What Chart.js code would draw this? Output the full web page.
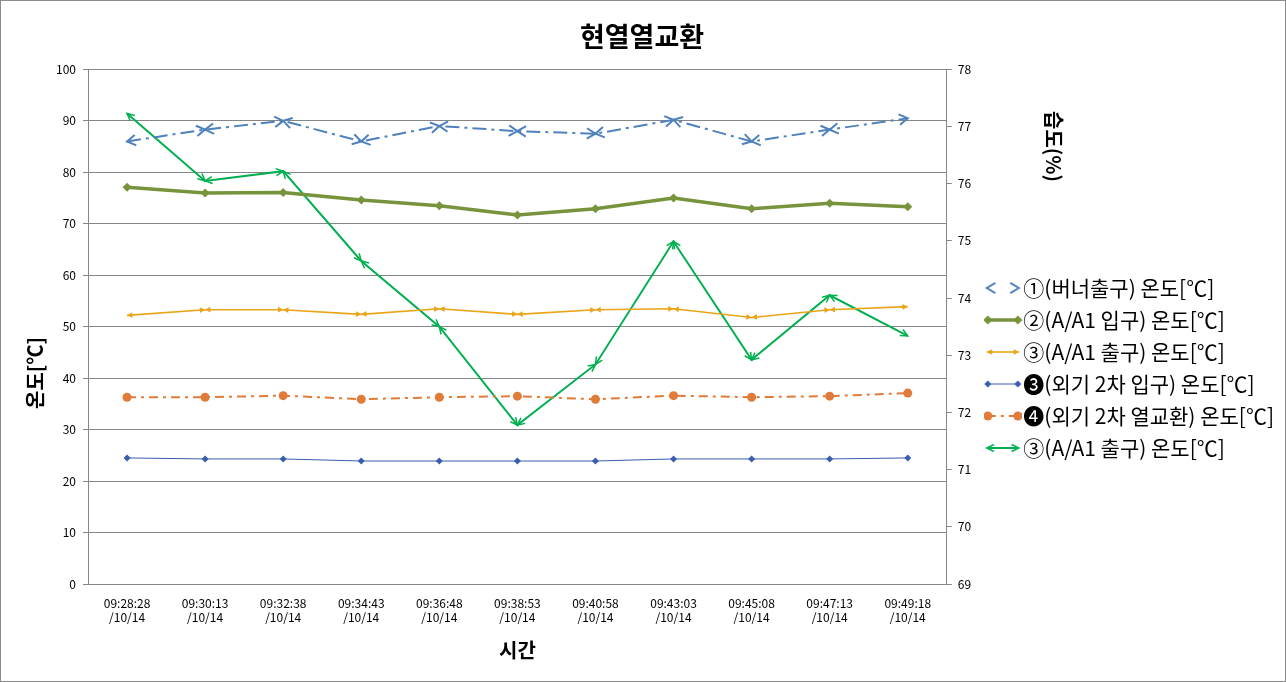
<!DOCTYPE html>
<html>
<head>
<meta charset="utf-8">
<title>현열열교환</title>
<script src="https://cdn.jsdelivr.net/npm/chart.js@4.4.1/dist/chart.umd.min.js"></script>
<style>
html, body { margin: 0; padding: 0; background: #fff; }
</style>
</head>
<body>
<canvas id="chart" width="1286" height="682"></canvas>
<script>

// DATA BEGIN

const times = ['09:28:28', '09:30:13', '09:32:38', '09:34:43', '09:36:48', '09:38:53', '09:40:58', '09:43:03', '09:45:08', '09:47:13', '09:49:18'];
const dateSuffix = '/10/14';

const burnerOut = [86, 88.3, 90, 86, 89, 88, 87.5, 90.2, 86, 88.3, 90.5];
const aa1In = [77.1, 76, 76.1, 74.6, 73.5, 71.7, 72.9, 75, 72.9, 74, 73.3];
const aa1Out = [52.2, 53.3, 53.3, 52.4, 53.5, 52.4, 53.3, 53.5, 51.8, 53.3, 53.9];
const outsideIn = [24.5, 24.3, 24.3, 23.9, 23.9, 23.9, 23.9, 24.3, 24.3, 24.3, 24.5];
const outsideHx = [36.3, 36.3, 36.6, 35.9, 36.3, 36.5, 35.9, 36.6, 36.3, 36.5, 37.1];
const humidity = [77.23, 76.05, 76.22, 74.65, 73.5, 71.78, 72.84, 74.99, 72.92, 74.05, 73.34];

const leftTicks = [0, 100, 10];
const rightTicks = [69, 78, 1];

const seriesNames = ['①(버너출구) 온도[℃]', '②(A/A1 입구) 온도[℃]', '③(A/A1 출구) 온도[℃]', '❸(외기 2차 입구) 온도[℃]', '❹(외기 2차 열교환) 온도[℃]', '③(A/A1 출구) 온도[℃]'];

// DATA END

const FONT = '"Noto Sans CJK KR", "Noto Sans", sans-serif';
const GRID = '#868686';

// ARROW HEADS BEGIN

function arrowHead(g, fx, fy, tx, ty, len, ang, filled)
{
    let a = Math.atan2(ty - fy, tx - fx);
    g.beginPath();
    g.moveTo(tx - len * Math.cos(a - ang), ty - len * Math.sin(a - ang));
    g.lineTo(tx, ty);
    g.lineTo(tx - len * Math.cos(a + ang), ty - len * Math.sin(a + ang));
    if (filled)
    {
        g.closePath();
        g.fill();
    } else {
        g.stroke();
    }
}

const arrowPlugin =
{
    id: 'arrows',
    afterDatasetsDraw: function (chart)
    {
        let g = chart.ctx;
        chart.data.datasets.forEach(function (ds, i)
        {
            if (!ds.arrow)
                return;
            let pts = chart.getDatasetMeta(i).data;
            g.save();
            g.setLineDash([]);
            g.strokeStyle = ds.borderColor;
            g.fillStyle = ds.borderColor;
            g.lineWidth = ds.arrow.width;
            for (let k = 0; k < pts.length - 1; k++)
            {
                let p = pts[k], q = pts[k + 1];
                arrowHead(g, q.x, q.y, p.x, p.y, ds.arrow.len, ds.arrow.ang, ds.arrow.filled);
                arrowHead(g, p.x, p.y, q.x, q.y, ds.arrow.len, ds.arrow.ang, ds.arrow.filled);
            }
            g.restore();
        });
    }
};

// ARROW HEADS END

// LEGEND ICONS BEGIN

function legendIcon(i)
{
    let c = document.createElement('canvas');
    c.width = 38;
    c.height = 14;
    let g = c.getContext('2d');
    let y = 7, x0 = 3, x1 = 35;
    let ds = datasets[i];
    g.strokeStyle = ds.borderColor;
    g.fillStyle = ds.borderColor;
    g.lineWidth = ds.borderWidth;
    g.setLineDash(ds.borderDash || []);
    g.beginPath();
    g.moveTo(x0, y);
    g.lineTo(x1, y);
    if (i !== 0)
        g.stroke();
    g.setLineDash([]);
    if (ds.arrow)
    {
        g.lineWidth = ds.arrow.width;
        arrowHead(g, x1, y, x0, y, ds.arrow.len, ds.arrow.ang, ds.arrow.filled);
        arrowHead(g, x0, y, x1, y, ds.arrow.len, ds.arrow.ang, ds.arrow.filled);
    }
    if (ds.pointRadius > 0)
    {
        [x0 + 1, x1 - 1].forEach(function (x)
        {
            g.beginPath();
            if (ds.pointStyle === 'rectRot')
            {
                let r = ds.pointRadius;
                g.moveTo(x, y - r);
                g.lineTo(x + r, y);
                g.lineTo(x, y + r);
                g.lineTo(x - r, y);
                g.closePath();
            } else {
                g.arc(x, y, ds.pointRadius, 0, Math.PI * 2);
            }
            g.fill();
        });
    }
    return c;
}

// LEGEND ICONS END

// FRAME AND AXIS TITLES BEGIN

const framePlugin =
{
    id: 'frame',
    afterDraw: function (chart)
    {
        let g = chart.ctx;
        let area = chart.chartArea;
        g.save();
        g.strokeStyle = '#8c8c8c';
        g.lineWidth = 1;
        g.strokeRect(0.5, 0.5, chart.width - 1, chart.height - 1);

        g.fillStyle = '#000';
        g.font = 'bold 20px ' + FONT;
        g.textAlign = 'center';
        g.textBaseline = 'middle';

        g.save();
        g.translate(35, area.top + (area.bottom - area.top) * 0.59);
        g.rotate(-Math.PI / 2);
        g.fillText('온도[℃]', 0, 0);
        g.restore();

        g.save();
        g.translate(1054, area.top + (area.bottom - area.top) * 0.15);
        g.rotate(Math.PI / 2);
        g.fillText('습도(%)', 0, 0);
        g.restore();

        g.restore();
    }
};

// FRAME AND AXIS TITLES END

// CHART BEGIN

let labels = times.map(function (t) { return [t, dateSuffix]; });

let datasets =
[
    {
        label: seriesNames[0], data: burnerOut, yAxisID: 'y',
        borderColor: '#4F81BD', borderWidth: 2, borderDash: [14, 5, 3, 5],
        pointRadius: 0, arrow: { len: 10, ang: 0.55, width: 2, filled: false }
    },
    {
        label: seriesNames[1], data: aa1In, yAxisID: 'y',
        borderColor: '#77933C', backgroundColor: '#77933C', borderWidth: 3.5,
        pointStyle: 'rectRot', pointRadius: 4.5, pointBackgroundColor: '#77933C', pointBorderWidth: 0
    },
    {
        label: seriesNames[2], data: aa1Out, yAxisID: 'y',
        borderColor: '#E9A418', borderWidth: 1.6,
        pointRadius: 0, arrow: { len: 6, ang: 0.5, width: 1, filled: true }
    },
    {
        label: seriesNames[3], data: outsideIn, yAxisID: 'y',
        borderColor: '#3A5DAE', backgroundColor: '#3A5DAE', borderWidth: 1,
        pointStyle: 'rectRot', pointRadius: 3.5, pointBackgroundColor: '#3A5DAE', pointBorderWidth: 0
    },
    {
        label: seriesNames[4], data: outsideHx, yAxisID: 'y',
        borderColor: '#E07B39', backgroundColor: '#E07B39', borderWidth: 2, borderDash: [9, 5, 3, 5],
        pointStyle: 'circle', pointRadius: 4.5, pointBackgroundColor: '#E07B39', pointBorderWidth: 0
    },
    {
        label: seriesNames[5], data: humidity, yAxisID: 'y1',
        borderColor: '#00B050', borderWidth: 2,
        pointRadius: 0, arrow: { len: 8, ang: 0.45, width: 1.5, filled: false }
    }
];

datasets.forEach(function (ds)
{
    ds.fill = false;
    ds.tension = 0;
    ds.pointHoverRadius = ds.pointRadius;
});

let icons = datasets.map(function (ds, i) { return legendIcon(i); });

let ctx = document.getElementById('chart').getContext('2d');
new Chart(ctx,
{
    type: 'line',
    data: { labels: labels, datasets: datasets },
    plugins: [arrowPlugin, framePlugin],
    options:
    {
        responsive: false,
        animation: false,
        devicePixelRatio: 1,
        layout: { padding: { left: 0, right: 2, top: 0, bottom: 0 } },
        plugins:
        {
            title:
            {
                display: true,
                text: '현열열교환',
                color: '#000',
                font: { family: FONT, size: 27, weight: 'bold' },
                padding: { top: 21, bottom: 16 }
            },
            legend:
            {
                position: 'right',
                align: 'center',
                maxWidth: 340,
                title: { display: true, text: '', font: { size: 10 }, padding: { top: 0, bottom: 42 } },
                labels:
                {
                    color: '#000',
                    font: { family: FONT, size: 21 },
                    usePointStyle: true,
                    pointStyleWidth: 20,
                    padding: 11,
                    generateLabels: function (chart)
                    {
                        let items = Chart.defaults.plugins.legend.labels.generateLabels(chart);
                        items.forEach(function (it, i) { it.pointStyle = icons[i]; });
                        return items;
                    }
                }
            },
            tooltip: { enabled: false }
        },
        scales:
        {
            x:
            {
                offset: true,
                grid: { display: false, drawTicks: false },
                border: { color: GRID },
                ticks: { color: '#000', padding: 12, maxRotation: 0, autoSkip: false, font: { family: FONT, size: 12, lineHeight: 1.2 } },
                title: { display: true, text: '시간', color: '#000', font: { family: FONT, size: 20, weight: 'bold' }, padding: { top: 0, bottom: 20 } },
                afterFit: function (scale) { scale.height = 98; }
            },
            y:
            {
                position: 'left',
                min: leftTicks[0], max: leftTicks[1],
                grid: { color: GRID, tickLength: 5 },
                border: { color: GRID },
                ticks: { stepSize: leftTicks[2], color: '#000', padding: 7, font: { family: FONT, size: 12 } },
                afterFit: function (scale) { scale.width = 88; }
            },
            y1:
            {
                position: 'right',
                min: rightTicks[0], max: rightTicks[1],
                grid: { drawOnChartArea: false, color: GRID, tickLength: 5 },
                border: { color: GRID },
                ticks: { stepSize: rightTicks[2], color: '#000', padding: 6, font: { family: FONT, size: 12 } },
                afterFit: function (scale) { scale.width = 35; }
            }
        }
    }
});

// CHART END

</script>
</body>
</html>
